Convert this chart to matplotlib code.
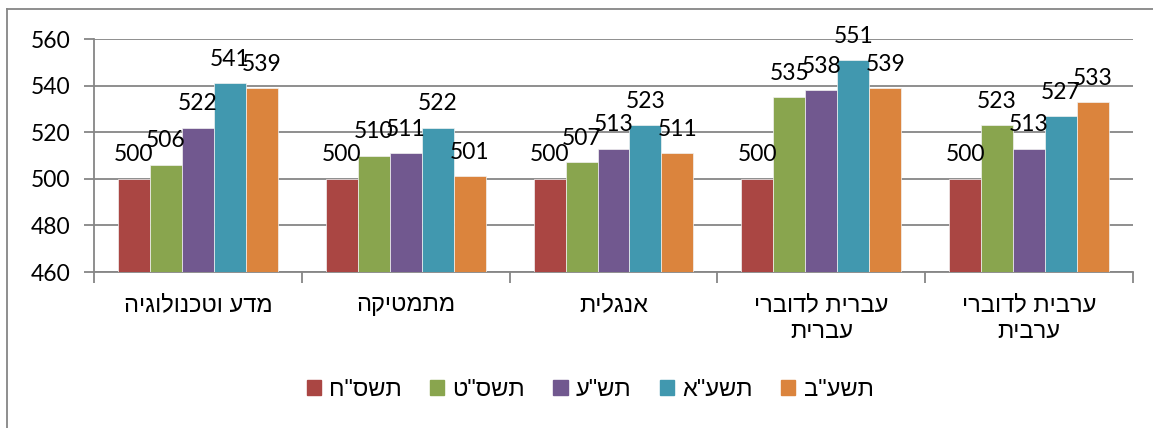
import matplotlib
matplotlib.use("Agg")
import matplotlib.pyplot as plt
import matplotlib.transforms as mtransforms
import numpy as np
from matplotlib.patches import Rectangle
from matplotlib.lines import Line2D

plt.rcParams['font.family'] = ['Lato', 'Liberation Sans', 'DejaVu Sans']
HEB = ['Liberation Sans', 'DejaVu Sans']

categories = ["מדע וטכנולוגיה", "מתמטיקה", "אנגלית", "עברית לדוברי\nעברית", "ערבית לדוברי\nערבית"]
series_names = ['תשס"ח', 'תשס"ט', 'תש"ע', 'תשע"א', 'תשע"ב']
values = {
    'תשס"ח': [500, 500, 500, 500, 500],
    'תשס"ט': [506, 510, 507, 535, 523],
    'תש"ע': [522, 511, 513, 538, 513],
    'תשע"א': [541, 522, 523, 551, 527],
    'תשע"ב': [539, 501, 511, 539, 533],
}
colors = ["#AA4643", "#89A54E", "#71588F", "#4198AF", "#DB843D"]
y_ticks = [460, 480, 500, 520, 540, 560]


def rtl(s):
    return "\n".join(line[::-1] for line in s.split("\n"))


W, H = 1153, 428
fig = plt.figure(figsize=(W / 100, H / 100), dpi=100)
ax_h = 272 - 39
ax = fig.add_axes([94 / W, 1 - 272 / H, (1133 - 94) / W, ax_h / H])

n = len(series_names)
bw = 1 / (n + 1.5)
x = np.arange(len(categories))
for i, name in enumerate(series_names):
    pos = x - 0.5 + 0.75 * bw + (i + 0.5) * bw
    vals = values[name]
    ax.bar(pos, [v - 460 for v in vals], bottom=460, width=bw, color=colors[i],
           edgecolor="#f2f2f2", linewidth=0.5, zorder=3)
    for p, v in zip(pos, vals):
        ax.annotate(str(v), (p, v), xytext=(0, 12.5), textcoords="offset points",
                    ha="center", va="baseline", fontsize=16.5, color="black", zorder=4)

ax.set_ylim(460, 560)
ax.set_xlim(-0.5, len(categories) - 0.5)
ax.set_yticks(y_ticks)
ax.set_yticklabels([str(t) for t in y_ticks], fontsize=16.5)
ax.yaxis.grid(True, color="#868686", linewidth=1.3, zorder=0)
ax.tick_params(axis="y", length=7, width=1.3, color="#868686", pad=10)

ax.set_xticks(np.arange(len(categories) + 1) - 0.5, minor=False)
ax.set_xticklabels([])
ax.tick_params(axis="x", length=8, width=1.3, color="#868686")
trans = mtransforms.blended_transform_factory(ax.transData, ax.transAxes)
for xi, c in zip(x, categories):
    ax.text(xi, -22 / ax_h, rtl(c), ha="center", va="top", fontsize=17,
            family=HEB, linespacing=1.3, transform=trans)

for s in ["top", "right"]:
    ax.spines[s].set_visible(False)
for s in ["left", "bottom"]:
    ax.spines[s].set_color("#868686")
    ax.spines[s].set_linewidth(1.3)

handles = [Rectangle((0, 0), 1, 1, color=c) for c in colors]
fig.legend(handles, [rtl(s) for s in series_names], loc="center",
           bbox_to_anchor=(590 / W, 1 - 390 / H), ncol=5, frameon=False,
           prop={'family': HEB, 'size': 17}, handlelength=0.6, handleheight=0.6,
           handletextpad=0.35, columnspacing=1.2)

fig.add_artist(Line2D([7 / W, 7 / W], [0, 1 - 9 / H], transform=fig.transFigure,
                      color="#868686", linewidth=1.3))
fig.add_artist(Line2D([7 / W, 1], [1 - 9 / H, 1 - 9 / H], transform=fig.transFigure,
                      color="#868686", linewidth=1.3))

fig.savefig("out.png", dpi=100)
